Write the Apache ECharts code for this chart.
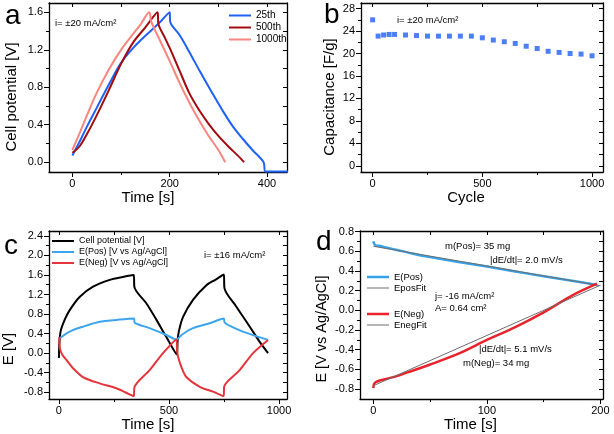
<!DOCTYPE html>
<html>
<head>
<meta charset="utf-8">
<script src="https://cdn.jsdelivr.net/npm/echarts@6/dist/echarts.min.js"></script>
<style>
html,body{margin:0;padding:0;background:#fff;}
#main{width:614px;height:434px;}
</style>
</head>
<body>
<div id="main"></div>
<script>
// (a) cell potential vs time for cycles 25/500/1000
var tA25 = [0, 15, 30, 50, 75, 100, 125, 150, 175, 200, 201, 220, 240, 262, 285, 310, 330, 350, 370, 393, 397, 450];
var vA25 = [0.07, 0.22, 0.38, 0.58, 0.83, 1.06, 1.22, 1.35, 1.47, 1.6, 1.5, 1.36, 1.18, 0.97, 0.76, 0.54, 0.38, 0.25, 0.13, 0.0, -0.1, -0.1];
var tA500 = [0, 15, 30, 50, 75, 100, 125, 150, 175, 177, 190, 200, 220, 240, 260, 280, 300, 320, 340, 353];
var vA500 = [0.1, 0.17, 0.3, 0.5, 0.77, 1.05, 1.28, 1.44, 1.6, 1.47, 1.33, 1.22, 0.98, 0.74, 0.56, 0.41, 0.28, 0.17, 0.07, 0.0];
var tA1000 = [0, 15, 30, 50, 75, 100, 125, 140, 158, 162, 180, 200, 220, 240, 260, 280, 300, 314];
var vA1000 = [0.13, 0.31, 0.5, 0.74, 0.99, 1.2, 1.37, 1.47, 1.6, 1.5, 1.3, 1.08, 0.85, 0.64, 0.45, 0.28, 0.13, 0.0];

// (b) capacitance vs cycle
var cycles = [0, 25, 50, 75, 100, 150, 200, 250, 300, 350, 400, 450, 500, 550, 600, 650, 700, 750, 800, 850, 900, 950, 1000];
var capacitance = [26.0, 23.1, 23.3, 23.4, 23.4, 23.3, 23.2, 23.1, 23.1, 23.1, 23.1, 23.1, 22.8, 22.4, 22.1, 21.8, 21.3, 20.9, 20.4, 20.2, 20.0, 19.9, 19.6];

// (c) two cycles, cell + electrode potentials
var tCell = [0, 2, 8, 26, 49, 94, 155, 231, 290, 340, 343, 397, 443, 488, 536, 539, 545, 564, 609, 670, 710, 749, 752, 806, 867, 912, 950];
var vCell = [-0.1, 0.2, 0.45, 0.68, 0.88, 1.15, 1.36, 1.5, 1.56, 1.6, 1.35, 1.02, 0.68, 0.33, -0.03, 0.25, 0.45, 0.74, 1.09, 1.39, 1.5, 1.61, 1.33, 0.95, 0.54, 0.23, 0.0];
var tPos = [2, 49, 109, 185, 261, 340, 345, 412, 488, 534, 560, 609, 685, 749, 753, 836, 950];
var vPos = [0.3, 0.44, 0.54, 0.64, 0.68, 0.71, 0.62, 0.51, 0.37, 0.28, 0.38, 0.51, 0.61, 0.71, 0.62, 0.44, 0.27];
var tNeg = [2, 4, 15, 34, 64, 109, 185, 261, 340, 343, 412, 473, 534, 537, 541, 556, 579, 640, 700, 748, 751, 821, 882, 950];
var vNeg = [0.33, 0.1, -0.03, -0.14, -0.31, -0.49, -0.62, -0.72, -0.88, -0.7, -0.35, 0.0, 0.28, 0.05, -0.07, -0.28, -0.49, -0.69, -0.79, -0.88, -0.68, -0.35, 0.0, 0.27];

// (d) single discharge with linear fits
var tPosD = [0, 0.5, 2, 5, 10, 20, 35, 50, 75, 100, 125, 150, 175, 197];
var vPosD = [0.70, 0.68, 0.66, 0.655, 0.64, 0.615, 0.575, 0.54, 0.49, 0.445, 0.395, 0.345, 0.3, 0.258];
var tNegD = [0, 0.5, 2, 5, 10, 20, 30, 50, 75, 100, 125, 150, 175, 197];
var vNegD = [-0.79, -0.75, -0.73, -0.715, -0.70, -0.67, -0.63, -0.55, -0.44, -0.30, -0.17, -0.02, 0.15, 0.27];
var tFit = [0, 200];
var vPosFit = [0.65, 0.25];
var vNegFit = [-0.765, 0.255];

var F = "'Liberation Sans', Arial, sans-serif";
var myChart = echarts.init(document.getElementById('main'));

function pairs(xs, ys){
	var out = [];
	for (var i = 0; i < xs.length; i++) out.push([xs[i], ys[i]]);
	return out;
}

function fmt(dec){
	return function(v){ return dec ? v.toFixed(dec) : String(Math.round(v)); };
}

function xAxes(g, min, max, major, minor, name, pad, gap){
	var line = {onZero:false, lineStyle:{color:'#000', width:1.3}};
	return [
		{type:'value', gridIndex:g, position:'bottom', min:min, max:max,
		 name:name, nameLocation:'middle', nameGap:gap,
		 nameTextStyle:{fontSize:15, color:'#000', fontFamily:F, padding:[0, pad, 0, 0]},
		 axisLine:line,
		 axisTick:{length:5, customValues:major, lineStyle:{color:'#000'}},
		 axisLabel:{customValues:major, color:'#000', fontSize:11, margin:6, fontFamily:F, formatter:fmt(0)},
		 splitLine:{show:false}},
		{type:'value', gridIndex:g, position:'bottom', min:min, max:max,
		 axisLine:{show:false, onZero:false},
		 axisTick:{show:true, length:3, customValues:minor, lineStyle:{color:'#000'}},
		 axisLabel:{show:false}, splitLine:{show:false}},
		{type:'value', gridIndex:g, position:'top', min:min, max:max,
		 axisLine:line,
		 axisTick:{inside:true, length:4, customValues:major.concat(minor), lineStyle:{color:'#000'}},
		 axisLabel:{show:false}, splitLine:{show:false}}
	];
}

function yAxes(g, min, max, major, minor, dec){
	var line = {onZero:false, lineStyle:{color:'#000', width:1.3}};
	return [
		{type:'value', gridIndex:g, position:'left', min:min, max:max,
		 axisLine:line,
		 axisTick:{length:5, customValues:major, lineStyle:{color:'#000'}},
		 axisLabel:{customValues:major, color:'#000', fontSize:11, margin:6, fontFamily:F, formatter:fmt(dec)},
		 splitLine:{show:false}},
		{type:'value', gridIndex:g, position:'left', min:min, max:max,
		 axisLine:{show:false, onZero:false},
		 axisTick:{show:true, length:3, customValues:minor, lineStyle:{color:'#000'}},
		 axisLabel:{show:false}, splitLine:{show:false}},
		{type:'value', gridIndex:g, position:'right', min:min, max:max,
		 axisLine:line,
		 axisTick:{inside:true, length:4, customValues:major.concat(minor), lineStyle:{color:'#000'}},
		 axisLabel:{show:false}, splitLine:{show:false}}
	];
}

function lineSeries(name, xi, xs, ys, color, width, smooth){
	return {name:name, type:'line', xAxisIndex:xi, yAxisIndex:xi, data:pairs(xs, ys),
		symbol:'none', smooth:smooth || false, animation:false, color:color,
		lineStyle:{color:color, width:width}};
}

function txt(s, x, y, size){
	return {type:'text', x:x, y:y, silent:true,
		style:{text:s, fontSize:size, fontFamily:F, fill:'#000', verticalAlign:'middle'}};
}

// vertical y-axis title, centred on (x, y)
function ytitle(s, x, y, size){
	return {type:'text', x:x, y:y, rotation:Math.PI / 2, silent:true,
		style:{text:s, fontSize:size, fontFamily:F, fill:'#000', align:'center', verticalAlign:'middle'}};
}

// one legend block; icon is a thin rect so it reads as a line sample
function leg(names, left, top, thick, size, gap){
	return {data:names, orient:'vertical', left:left, top:top, padding:0,
		icon:'rect', itemWidth:22, itemHeight:thick, itemGap:gap,
		textStyle:{fontSize:size, fontFamily:F, color:'#000', lineHeight:size}};
}

var xs = [].concat(
	xAxes(0, -48, 441, [0, 200, 400], [100, 300], 'Time [s]', 40, 16),
	xAxes(1, -53, 1050, [0, 500, 1000], [250, 750], 'Cycle', 32, 16),
	xAxes(2, -45, 1036, [0, 500, 1000], [250, 750], 'Time [s]', 40, 16),
	xAxes(3, -11.8, 202.3, [0, 100, 200], [50, 150], 'Time [s]', 22, 16)
);
var ys = [].concat(
	yAxes(0, -0.105, 1.70, [0, 0.4, 0.8, 1.2, 1.6], [0.2, 0.6, 1.0, 1.4], 1),
	yAxes(1, -1.1, 29, [0, 4, 8, 12, 16, 20, 24, 28], [2, 6, 10, 14, 18, 22, 26], 0),
	yAxes(2, -0.94, 2.5, [-0.8, -0.4, 0, 0.4, 0.8, 1.2, 1.6, 2.0, 2.4], [-0.6, -0.2, 0.2, 0.6, 1.0, 1.4, 1.8, 2.2], 1),
	yAxes(3, -0.9, 0.805, [-0.8, -0.6, -0.4, -0.2, 0, 0.2, 0.4, 0.6, 0.8], [-0.7, -0.5, -0.3, -0.1, 0.1, 0.3, 0.5, 0.7], 1)
);

myChart.setOption({
	animation:false,
	backgroundColor:'#fff',
	grid:[
		{left:49, top:3, width:238, height:169, outerBoundsMode:'none'},
		{left:361, top:3, width:242, height:169, outerBoundsMode:'none'},
		{left:49, top:231, width:238, height:168, outerBoundsMode:'none'},
		{left:360, top:231, width:243, height:168, outerBoundsMode:'none'}
	],
	xAxis:xs,
	yAxis:ys,
	legend:[
		leg(['25th', '500th', '1000th'], 229, 10.5, 2, 10, 2),
		leg(['Cell potential [V]', 'E(Pos) [V vs Ag/AgCl]', 'E(Neg) [V vs Ag/AgCl]'], 52, 236.5, 2, 9, 2),
		leg(['E(Pos)'], 367, 272, 2.5, 9.5, 0),
		leg(['EposFit'], 367, 283, 1, 9.5, 0),
		leg(['E(Neg)'], 367, 309, 2.5, 9.5, 0),
		leg(['EnegFit'], 367, 320, 1, 9.5, 0)
	],
	graphic:[
		ytitle('Cell potential [V]', 12, 97, 15),
		ytitle('Capacitance [F/g]', 330, 97, 15),
		ytitle('E [V]', 9, 349, 15),
		ytitle('E [V vs Ag/AgCl]', 322, 329, 14.5),
		txt('a', 5, 16, 28),
		txt('b', 324, 15, 28),
		txt('c', 4, 246, 28),
		txt('d', 316, 242, 28),
		txt('i= \u00b120 mA/cm\u00b2', 55, 23, 9.5),
		txt('i= \u00b120 mA/cm\u00b2', 397, 20, 9.5),
		txt('i= \u00b116 mA/cm\u00b2', 204, 255, 9.5),
		txt('m(Pos)= 35 mg', 445, 246, 9.5),
		txt('|dE/dt|= 2.0 mV/s', 490, 260, 9.5),
		txt('j= -16 mA/cm\u00b2', 435, 296, 9.5),
		txt('A= 0.64 cm\u00b2', 435, 308, 9.5),
		txt('|dE/dt|= 5.1 mV/s', 479, 349, 9.5),
		txt('m(Neg)= 34 mg', 463, 363, 9.5)
	],
	series:[
		lineSeries('25th', 0, tA25, vA25, '#1f62f5', 2, 0.3),
		lineSeries('500th', 0, tA500, vA500, '#a00c10', 2, 0.3),
		lineSeries('1000th', 0, tA1000, vA1000, '#f7867e', 2, 0.3),
		{name:'Capacitance', type:'scatter', xAxisIndex:3, yAxisIndex:3, data:pairs(cycles, capacitance),
		 symbol:'rect', symbolSize:5, itemStyle:{color:'#1f5ff0'}, animation:false},
		lineSeries('Cell potential [V]', 6, tCell, vCell, '#000000', 2, 0.3),
		lineSeries('E(Pos) [V vs Ag/AgCl]', 6, tPos, vPos, '#3ca5ee', 2, 0.3),
		lineSeries('E(Neg) [V vs Ag/AgCl]', 6, tNeg, vNeg, '#e4343c', 2, 0.3),
		lineSeries('E(Pos)', 9, tPosD, vPosD, '#36a2e8', 2.5, 0.3),
		lineSeries('EposFit', 9, tFit, vPosFit, '#6e6e6e', 1),
		lineSeries('E(Neg)', 9, tNegD, vNegD, '#e8232b', 2.5, 0.3),
		lineSeries('EnegFit', 9, tFit, vNegFit, '#6e6e6e', 1)
	]
});
</script>
</body>
</html>
